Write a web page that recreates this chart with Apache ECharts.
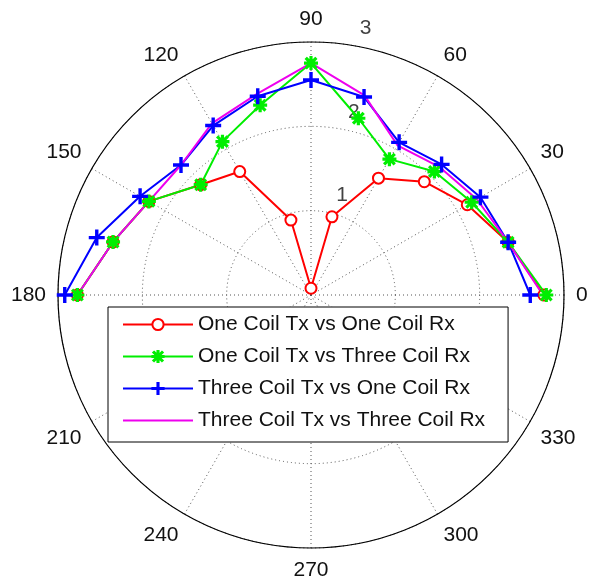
<!DOCTYPE html>
<html>
<head>
<meta charset="utf-8">
<script src="https://cdn.jsdelivr.net/npm/echarts@6/dist/echarts.min.js"></script>
<style>
  html, body { margin: 0; padding: 0; background: #fff; }
  #chart { width: 590px; height: 588px; }
</style>
</head>
<body>
<div id="chart"></div>
<script>
// angles in degrees (0 = right, counter-clockwise)
const angles = [0, 15, 30, 45, 60, 75, 90, 105, 120, 135, 150, 165, 180];
const oneTxOneRx = [2.76, 2.42, 2.14, 1.90, 1.60, 0.96, 0.08, 0.92, 1.69, 1.85, 2.22, 2.43, 2.77];
const oneTxThreeRx = [2.79, 2.42, 2.20, 2.07, 1.86, 2.17, 2.75, 2.33, 2.10, 1.85, 2.22, 2.43, 2.77];
const threeTxOneRx = [2.60, 2.42, 2.32, 2.19, 2.09, 2.43, 2.55, 2.44, 2.32, 2.18, 2.34, 2.63, 2.92];
const threeTxThreeRx = [2.75, 2.42, 2.27, 2.15, 2.05, 2.45, 2.75, 2.47, 2.35, 2.18, 2.22, 2.43, 2.77];
const seriesNames = [
  'One Coil Tx vs One Coil Rx',
  'One Coil Tx vs Three Coil Rx',
  'Three Coil Tx vs One Coil Rx',
  'Three Coil Tx vs Three Coil Rx'
];
const ringLabels = [1, 2, 3];
const ringLabelAngle = 82;

const FONT = 'Liberation Sans';

// marker shapes like matlab '+' and '*'
const plusPath = 'path://M9,0L11,0L11,20L9,20Z M0,9L20,9L20,11L0,11Z';
const starPath = 'path://M9,0L11,0L11,20L9,20Z M0,9L20,9L20,11L0,11Z ' +
  'M3,1.6L18.4,17L17,18.4L1.6,3Z M17,1.6L18.4,3L3,18.4L1.6,17Z';

function pairs(vals) {
  return vals.map((v, i) => [v, angles[i]]);
}

function lineSeries(name, vals, color, symbol, size) {
  return {
    name: name,
    type: 'line',
    coordinateSystem: 'polar',
    data: pairs(vals),
    symbol: symbol,
    symbolSize: size,
    showSymbol: symbol !== 'none',
    lineStyle: { color: color, width: 2 },
    itemStyle: { color: color, borderColor: color, borderWidth: 2 },
    emphasis: { disabled: true }
  };
}

let chart = echarts.init(document.getElementById('chart'));
const option = {
  animation: false,
  backgroundColor: '#fff',
  polar: {
    center: [311, 295],
    radius: 253
  },
  angleAxis: {
    type: 'value',
    min: 0,
    max: 360,
    interval: 30,
    startAngle: 0,
    clockwise: false,
    axisLine: { lineStyle: { color: '#000', width: 1.2 } },
    axisTick: { show: false },
    axisLabel: {
      margin: 12,
      align: 'center',
      verticalAlign: 'middle',
      color: '#111',
      fontFamily: FONT,
      fontSize: 21,
      formatter: v => (v === 360 ? '' : String(v))
    },
    splitLine: { show: true, lineStyle: { color: '#555', type: [1, 3], width: 1 } }
  },
  radiusAxis: {
    min: 0,
    max: 3,
    interval: 1,
    axisLine: { show: false },
    axisTick: { show: false },
    axisLabel: { show: false },
    splitLine: { show: true, lineStyle: { color: '#555', type: [1, 3], width: 1 } }
  },
  legend: {
    data: [
      seriesNames[0],
      seriesNames[1],
      seriesNames[2],
      { name: seriesNames[3], itemStyle: { color: 'transparent', borderColor: 'transparent', borderWidth: 0 } }
    ],
    orient: 'vertical',
    left: 108,
    top: 307,
    padding: [7, 23, 11, 14],
    itemWidth: 70,
    itemHeight: 14,
    itemGap: 11,
    backgroundColor: '#fff',
    borderColor: '#000',
    borderWidth: 1,
    borderRadius: 0,
    textStyle: { fontFamily: FONT, fontSize: 21, lineHeight: 21, color: '#111' }
  },
  series: [
    lineSeries(seriesNames[0], oneTxOneRx, '#ff0000', 'emptyCircle', 11),
    lineSeries(seriesNames[1], oneTxThreeRx, '#00ee00', starPath, 12),
    lineSeries(seriesNames[2], threeTxOneRx, '#0000ff', plusPath, 14),
    lineSeries(seriesNames[3], threeTxThreeRx, '#ee00ee', 'none', 0),
    {
      type: 'scatter',
      coordinateSystem: 'polar',
      silent: true,
      symbolSize: 1,
      itemStyle: { color: 'transparent' },
      data: ringLabels.map(r => [r, ringLabelAngle]),
      label: {
        show: true,
        position: 'right',
        offset: [8, -16],
        fontFamily: FONT,
        fontSize: 21,
        color: '#111',
        formatter: p => String(p.value[0])
      }
    }
  ]
};
chart.setOption(option);
window.addEventListener('resize', () => {
  chart.resize();
});
</script>
</body>
</html>
